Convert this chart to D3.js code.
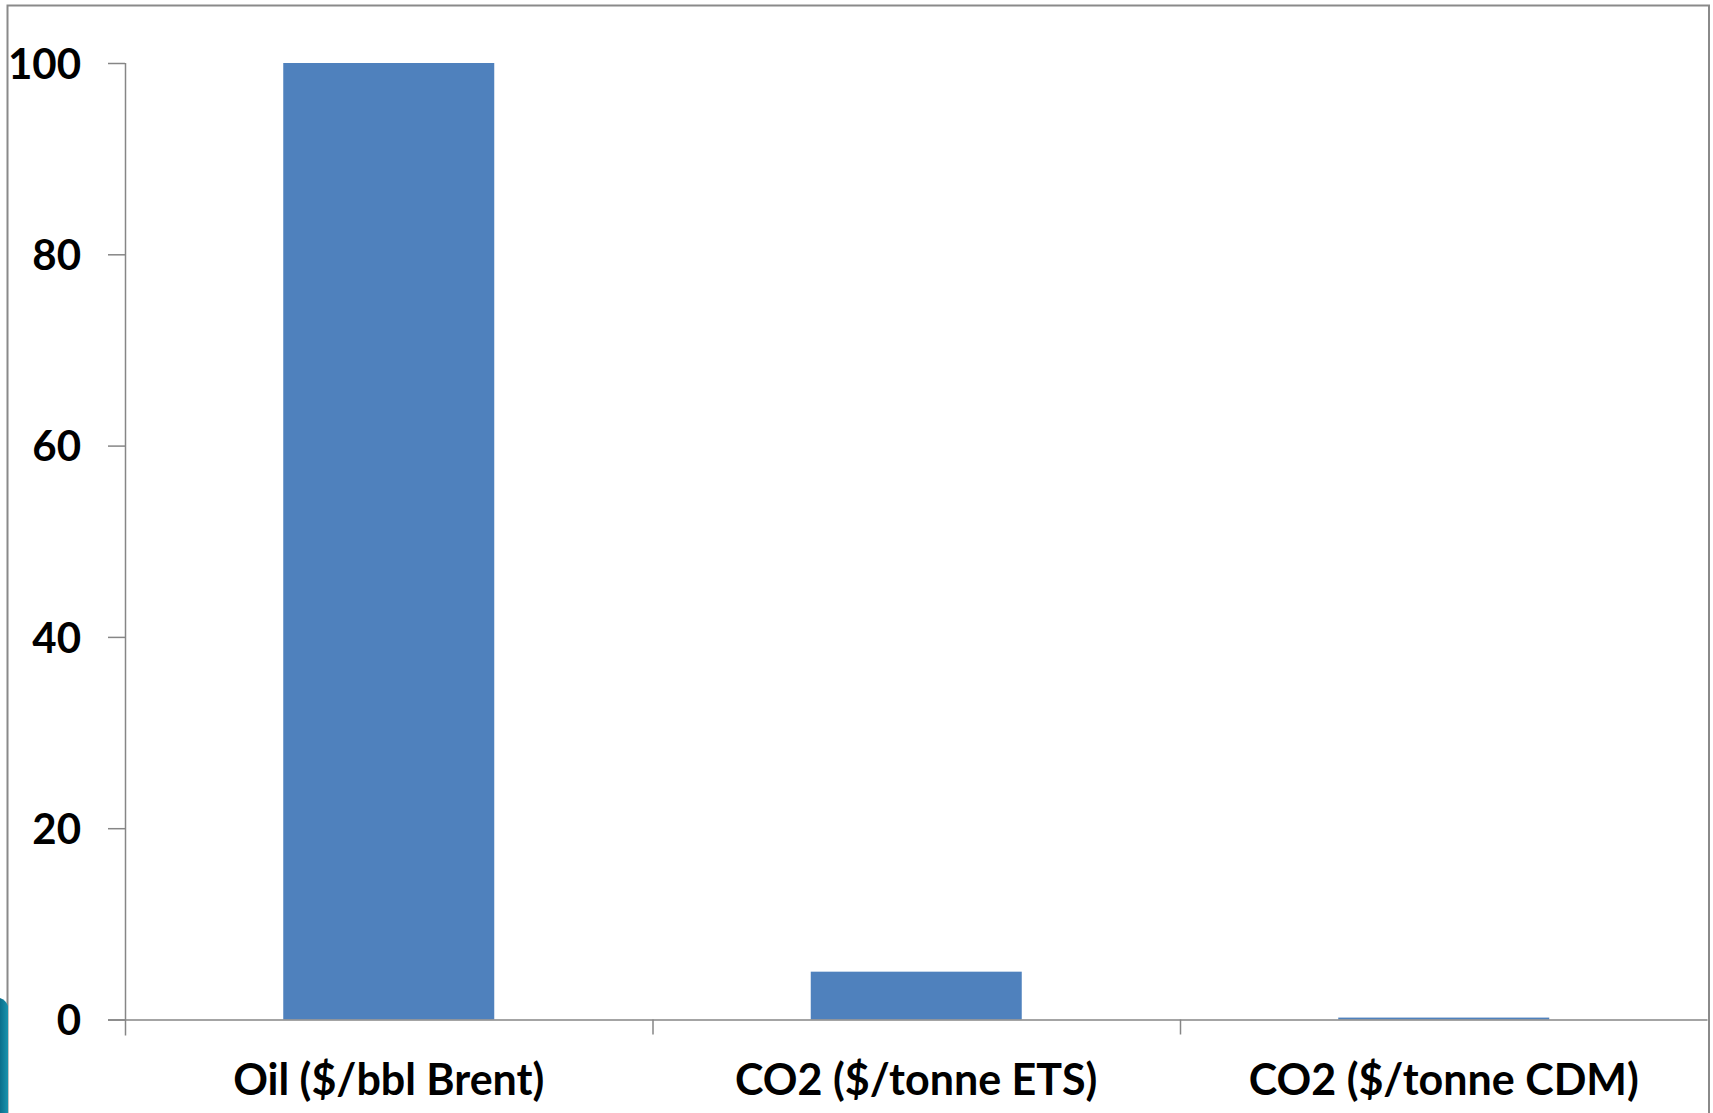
<!DOCTYPE html>
<html>
<head>
<meta charset="utf-8">
<script src="https://cdn.jsdelivr.net/npm/d3@7"></script>
<style>
  html, body { margin: 0; padding: 0; background: #fff; }
  svg { display: block; }
  .lbl { font-family: Lato, "Open Sans", sans-serif; font-weight: 700; fill: #000; }
</style>
</head>
<body>
<svg id="chart" width="1713" height="1113"></svg>
<script>
// Price comparison: oil vs. carbon
const categories = ["Oil ($/bbl Brent)", "CO2 ($/tonne ETS)", "CO2 ($/tonne CDM)"];
const values = [100, 5, 0.2];
const yTicks = [0, 20, 40, 60, 80, 100];

const margin = { left: 125, top: 63 };
const plotRight = 1707.5;
const baseY = 1019.5;

const svg = d3.select("#chart");

// outer chart frame
svg.append("rect")
  .attr("x", 7.5).attr("y", 5.5)
  .attr("width", 1701.5).attr("height", 1130)
  .attr("fill", "#fff")
  .attr("stroke", "#8a8a8a")
  .attr("stroke-width", 2);

// teal slide accent in the lower-left corner
const teal = svg.append("defs").append("linearGradient")
  .attr("id", "teal").attr("x1", 0).attr("x2", 1).attr("y1", 0).attr("y2", 0);
teal.append("stop").attr("offset", 0).attr("stop-color", "#0b6f8c");
teal.append("stop").attr("offset", 1).attr("stop-color", "#1a93ae");
svg.append("path")
  .attr("d", "M0,998 Q6,1000 8,1006 L8,1113 L0,1113 Z")
  .attr("fill", "url(#teal)");

const x = d3.scaleBand()
  .domain(categories)
  .range([margin.left, plotRight])
  .paddingInner(0.6)
  .paddingOuter(0.3);

const y = d3.scaleLinear()
  .domain([0, 100])
  .range([baseY, margin.top]);

// bars
svg.append("g").selectAll("rect")
  .data(values)
  .join("rect")
  .attr("x", (d, i) => x(categories[i]))
  .attr("width", x.bandwidth())
  .attr("y", d => y(d))
  .attr("height", d => baseY - y(d))
  .attr("fill", "#4f81bd");

// y axis
const yAxis = svg.append("g")
  .attr("transform", `translate(${margin.left},0)`)
  .call(d3.axisLeft(y).tickValues(yTicks).tickSize(17).tickSizeOuter(0).tickPadding(27));
yAxis.select(".domain").attr("stroke", "#868686").attr("stroke-width", 1.5)
  .attr("d", `M0.5,${y(100)}V${baseY + 16}`);
yAxis.selectAll(".tick line").attr("stroke", "#868686").attr("stroke-width", 1.5);
yAxis.selectAll(".tick text")
  .attr("class", "lbl")
  .style("font-size", "42px")
  .attr("dy", "0.36em");

// x axis with boundary ticks between categories
const xAxis = svg.append("g")
  .attr("transform", `translate(0,${baseY})`)
  .call(d3.axisBottom(x).tickSize(0).tickPadding(0));
xAxis.select(".domain").attr("stroke", "#868686").attr("stroke-width", 1.5)
  .attr("d", `M${margin.left - 17},0.5H${plotRight}`);
xAxis.selectAll(".tick text")
  .attr("class", "lbl")
  .style("font-size", "43px")
  .attr("y", 75)
  .attr("dy", 0);
const step = x.step();
xAxis.selectAll(".bound")
  .data(d3.range(1, categories.length))
  .join("line")
  .attr("class", "bound")
  .attr("x1", i => margin.left + i * step + 0.5)
  .attr("x2", i => margin.left + i * step + 0.5)
  .attr("y1", 0).attr("y2", 15)
  .attr("stroke", "#868686").attr("stroke-width", 1.5);
</script>
</body>
</html>
